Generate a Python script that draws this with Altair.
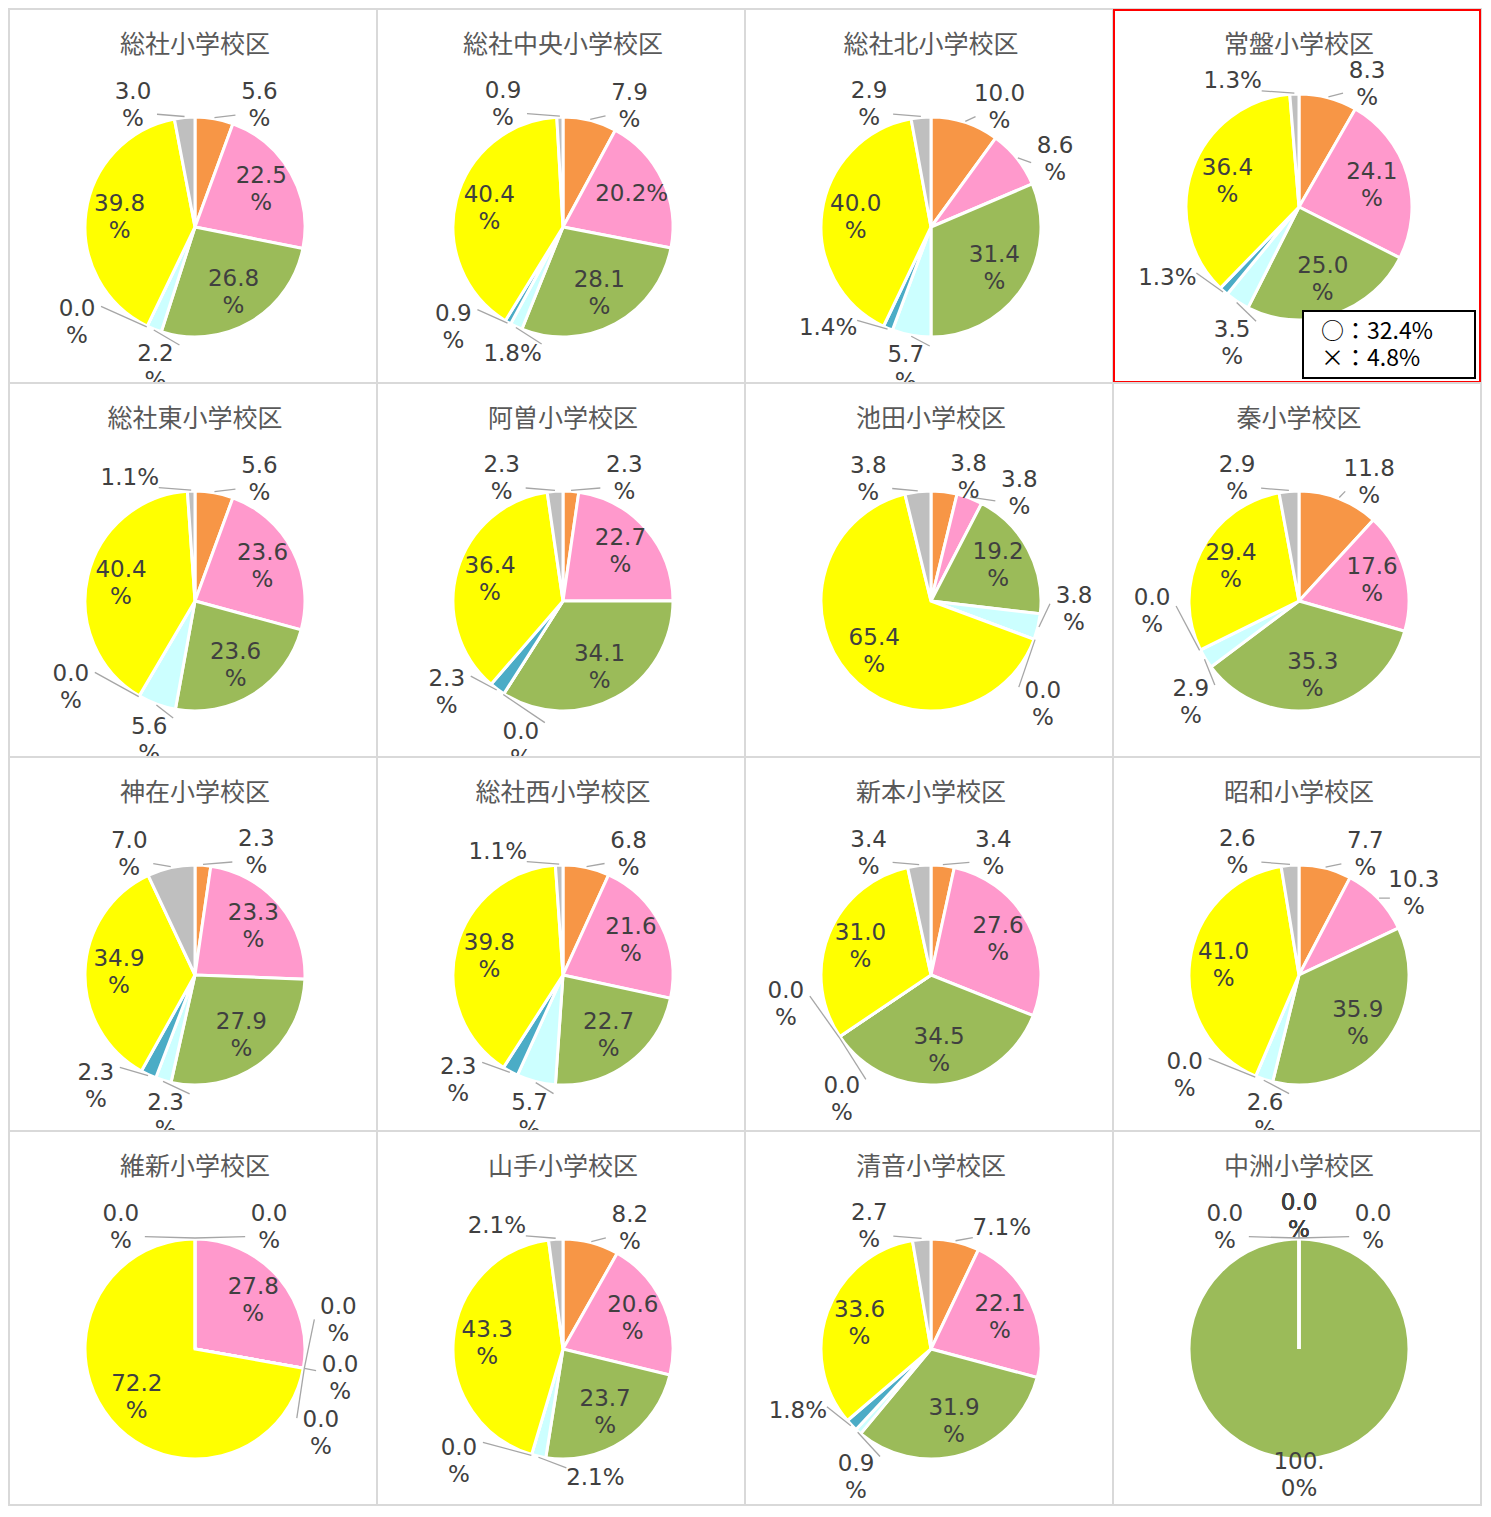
import altair as alt
import pandas as pd

schools = ["総社小学校区", "総社中央小学校区", "総社北小学校区", "常盤小学校区",
           "総社東小学校区", "阿曽小学校区", "池田小学校区", "秦小学校区",
           "神在小学校区", "総社西小学校区", "新本小学校区", "昭和小学校区",
           "維新小学校区", "山手小学校区", "清音小学校区", "中洲小学校区"]

categories = ["区分1", "区分2", "区分3", "区分4", "区分5", "区分6", "区分7"]
colors = ["#F79646", "#FF99CC", "#9BBB59", "#CCFFFF", "#4BACC6", "#FFFF00", "#BFBFBF"]

# series values (percent), one list per category, in school order
cat1_orange = [5.6, 7.9, 10.0, 8.3, 5.6, 2.3, 3.8, 11.8, 2.3, 6.8, 3.4, 7.7, 0.0, 8.2, 7.1, 0.0]
cat2_pink = [22.5, 20.2, 8.6, 24.1, 23.6, 22.7, 3.8, 17.6, 23.3, 21.6, 27.6, 10.3, 27.8, 20.6, 22.1, 0.0]
cat3_green = [26.8, 28.1, 31.4, 25.0, 23.6, 34.1, 19.2, 35.3, 27.9, 22.7, 34.5, 35.9, 0.0, 23.7, 31.9, 100.0]
cat4_cyan = [2.2, 1.8, 5.7, 3.5, 5.6, 0.0, 3.8, 2.9, 2.3, 5.7, 0.0, 2.6, 0.0, 2.1, 0.9, 0.0]
cat5_blue = [0.0, 0.9, 1.4, 1.3, 0.0, 2.3, 0.0, 0.0, 2.3, 2.3, 0.0, 0.0, 0.0, 0.0, 1.8, 0.0]
cat6_yellow = [39.8, 40.4, 40.0, 36.4, 40.4, 36.4, 65.4, 29.4, 34.9, 39.8, 31.0, 41.0, 72.2, 43.3, 33.6, 0.0]
cat7_gray = [3.0, 0.9, 2.9, 1.3, 1.1, 2.3, 3.8, 2.9, 7.0, 1.1, 3.4, 2.6, 0.0, 2.1, 2.7, 0.0]
series = [cat1_orange, cat2_pink, cat3_green, cat4_cyan, cat5_blue, cat6_yellow, cat7_gray]

# labels that Excel drew on one line (school, category index)
single_line_labels = [("総社中央小学校区", 1), ("総社中央小学校区", 3), ("総社北小学校区", 4),
                      ("常盤小学校区", 4), ("常盤小学校区", 6), ("総社東小学校区", 6),
                      ("総社西小学校区", 6), ("山手小学校区", 3), ("山手小学校区", 6),
                      ("清音小学校区", 0), ("清音小学校区", 4)]

highlight_school = "常盤小学校区"
note_lines = ["○：32.4%", "×：4.8%"]

rows = []
for s_i, school in enumerate(schools):
    for c_i, cat in enumerate(categories):
        v = series[c_i][s_i]
        if (school, c_i) in single_line_labels:
            lab = f"{v:.1f}%"
        elif v >= 100:
            lab = "100.\n0%"
        else:
            lab = f"{v:.1f}\n%"
        rows.append({"school": school, "cat": cat, "idx": c_i, "value": v, "label": lab})
df = pd.DataFrame(rows)

W, H = 368, 374
NUM_FONT = "DejaVu Sans"
JP_FONT = "Noto Sans CJK JP"
LH = 27


def panel(school):
    d = df[df.school == school].reset_index(drop=True)
    cx = 186
    if school == highlight_school:
        cy, R = 198, 113
    else:
        cy, R = 218, 110
    base = alt.Chart(d)

    arc = base.mark_arc(outerRadius=R, stroke="white", strokeWidth=3).encode(
        theta=alt.Theta("value:Q", stack=True),
        order=alt.Order("idx:Q", sort="ascending"),
        color=alt.Color("cat:N", scale=alt.Scale(domain=categories, range=colors), legend=None),
        x=alt.value(cx), y=alt.value(cy),
    )

    geo = (base
           .transform_joinaggregate(total="sum(value)")
           .transform_window(cum="sum(value)", prevVal="lag(value)", nextVal="lead(value)",
                             sort=[alt.SortField("idx")], frame=[None, 0])
           .transform_window(fv="first_value(value)", lv="last_value(value)",
                             sort=[alt.SortField("idx")], frame=[None, None])
           .transform_calculate(pv="datum.idx == 0 ? datum.lv : datum.prevVal")
           .transform_calculate(nv="datum.idx == 6 ? datum.fv : datum.nextVal")
           .transform_calculate(a0="2*PI*(datum.cum - datum.value/2)/datum.total")
           .transform_calculate(outside="datum.value < 13")
           .transform_calculate(sd="datum.outside ? (datum.nv > datum.pv ? 1 : (datum.nv < datum.pv ? -1 : 0)) : 0")
           .transform_calculate(la="datum.a0 + datum.sd*(datum.value == 0 ? 0.42 : 0.3*(1 - datum.value/13))")
           .transform_calculate(two="indexof(datum.label, '\\n') >= 0")
           .transform_calculate(hw="datum.two ? 24 : 29")
           .transform_calculate(hh="datum.two ? (cos(datum.la) > 0 ? 15 : 18) : 10")
           .transform_calculate(cc="datum.two ? 5 : 0")
           .transform_calculate(rp=f"{R} + (datum.value == 0 ? 13 : (datum.sd != 0 ? 9 : 4))")
           .transform_calculate(px=f"{cx} + datum.rp*sin(datum.la)")
           .transform_calculate(py=f"{cy} - datum.rp*cos(datum.la)")
           .transform_calculate(sx="sin(datum.la) > 1e-9 ? 1 : (sin(datum.la) < -1e-9 ? -1 : 0)")
           .transform_calculate(ri="datum.value >= 99.9 ? 126 : 76")
           .transform_calculate(lx=f"datum.outside ? datum.px + datum.hw*datum.sx : {cx} + datum.ri*sin(datum.a0)")
           .transform_calculate(lyc=f"datum.outside ? datum.py - datum.hh*cos(datum.la) + datum.cc : {cy} - datum.ri*cos(datum.a0)")
           .transform_calculate(ly=f"datum.lyc - (datum.two ? {LH / 2} : 0)")
           .transform_calculate(ex=f"{cx} + {R + 1}*sin(datum.a0)")
           .transform_calculate(ey=f"{cy} - {R + 1}*cos(datum.a0)"))

    leaders = geo.transform_filter("datum.outside && (datum.value == 0 || datum.sd != 0)").mark_rule(
        color="#A6A6A6", strokeWidth=1.3, clip=True).encode(
        x=alt.X("ex:Q", scale=None, axis=None),
        y=alt.Y("ey:Q", scale=None, axis=None),
        x2="px:Q", y2="py:Q",
    )

    labels = geo.mark_text(font=NUM_FONT, fontSize=23, color="#404040", lineBreak="\n",
                           lineHeight=LH, align="center", baseline="middle", clip=True).encode(
        x=alt.X("lx:Q", scale=None, axis=None),
        y=alt.Y("ly:Q", scale=None, axis=None),
        text="label:N",
    )

    title = base.transform_filter("datum.idx == 0").mark_text(
        font=JP_FONT, fontSize=25, color="#595959", align="center", baseline="middle").encode(
        x=alt.value(cx), y=alt.value(36), text="school:N")

    layers = [arc, leaders, labels, title]

    if school == highlight_school:
        note = pd.DataFrame({"school": [school], "text": ["\n".join(note_lines)]})
        nb = alt.Chart(note)
        box = nb.mark_rect(fill="white", stroke="black", strokeWidth=2).encode(
            x=alt.value(190), x2=alt.value(362), y=alt.value(302), y2=alt.value(369))
        ntext = nb.mark_text(font=JP_FONT, fontSize=23, color="#000000", lineBreak="\n",
                             lineHeight=27, align="left", baseline="middle").encode(
            x=alt.value(208), y=alt.value(323), text="text:N")
        frame = nb.mark_rect(filled=False, stroke="#FF0000", strokeWidth=2).encode(
            x=alt.value(1), x2=alt.value(W - 1), y=alt.value(1), y2=alt.value(H - 1))
        layers += [box, ntext, frame]

    return alt.layer(*layers).properties(width=W, height=H)


chart = alt.concat(*[panel(s) for s in schools], columns=4, bounds="flush").properties(
    padding=0, background="white"
).configure_concat(spacing=0).configure_view(stroke="#D9D9D9", strokeWidth=2)

chart.save("out.html", embed_options={"renderer": "svg", "actions": False})
